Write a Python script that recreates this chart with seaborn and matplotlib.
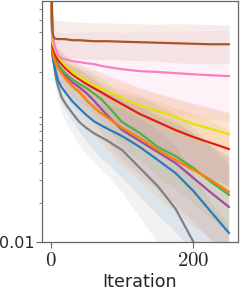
import numpy as np
import pandas as pd
import matplotlib
matplotlib.use("Agg")
import matplotlib.pyplot as plt
from matplotlib.ticker import FixedLocator, NullFormatter
import seaborn as sns

# Data
iters = [0, 2, 3, 5, 7, 10, 15, 20, 30, 40, 50, 60, 70, 80, 100, 125, 150, 175, 200, 225, 250]

gray = [2.0, 0.292, 0.258, 0.213, 0.179, 0.155, 0.128, 0.115, 0.0966, 0.0824, 0.0742, 0.0679, 0.0634, 0.0590, 0.0504, 0.0367, 0.0267, 0.0179, 0.0100, 0.0056, 0.0036]
blue = [2.0, 0.267, 0.249, 0.221, 0.199, 0.172, 0.152, 0.140, 0.119, 0.105, 0.0931, 0.0839, 0.0782, 0.0730, 0.0644, 0.0531, 0.0423, 0.0336, 0.0245, 0.0169, 0.0117]
purple = [2.0, 0.292, 0.277, 0.254, 0.237, 0.221, 0.202, 0.188, 0.166, 0.152, 0.137, 0.121, 0.105, 0.0917, 0.0716, 0.0590, 0.0486, 0.0401, 0.0308, 0.0237, 0.0185]
orange = [2.0, 0.292, 0.272, 0.245, 0.229, 0.213, 0.195, 0.179, 0.155, 0.140, 0.121, 0.107, 0.0966, 0.0886, 0.0742, 0.0622, 0.0504, 0.0423, 0.0355, 0.0297, 0.0241]
green = [2.0, 0.303, 0.287, 0.263, 0.245, 0.229, 0.209, 0.195, 0.175, 0.161, 0.150, 0.137, 0.124, 0.109, 0.0824, 0.0679, 0.0531, 0.0453, 0.0367, 0.0287, 0.0229]
red = [2.0, 0.319, 0.303, 0.282, 0.263, 0.245, 0.229, 0.213, 0.191, 0.175, 0.161, 0.150, 0.140, 0.130, 0.113, 0.0949, 0.0824, 0.0716, 0.0634, 0.0570, 0.0513]
yellow = [2.0, 0.336, 0.324, 0.303, 0.282, 0.263, 0.241, 0.224, 0.199, 0.182, 0.169, 0.158, 0.150, 0.140, 0.126, 0.111, 0.100, 0.0900, 0.0796, 0.0730, 0.0667]
pink = [2.0, 0.415, 0.367, 0.319, 0.292, 0.267, 0.254, 0.249, 0.241, 0.237, 0.232, 0.229, 0.222, 0.217, 0.209, 0.202, 0.199, 0.195, 0.191, 0.188, 0.185]
brown = [2.0, 0.415, 0.380, 0.360, 0.357, 0.355, 0.355, 0.355, 0.348, 0.348, 0.345, 0.342, 0.342, 0.342, 0.339, 0.336, 0.333, 0.330, 0.327, 0.324, 0.324]

# spread of the shaded band, in decades
gray_sd = [0, 0.05, 0.06, 0.08, 0.09, 0.10, 0.12, 0.13, 0.15, 0.18, 0.20, 0.22, 0.25, 0.27, 0.32, 0.38, 0.43, 0.48, 0.52, 0.55, 0.58]
blue_sd = [0, 0.05, 0.06, 0.08, 0.09, 0.10, 0.12, 0.13, 0.15, 0.18, 0.20, 0.22, 0.25, 0.27, 0.32, 0.38, 0.42, 0.45, 0.48, 0.50, 0.52]
purple_sd = [0, 0.04, 0.05, 0.06, 0.07, 0.08, 0.09, 0.10, 0.12, 0.14, 0.15, 0.17, 0.18, 0.20, 0.23, 0.26, 0.29, 0.32, 0.34, 0.36, 0.38]
orange_sd = [0, 0.05, 0.06, 0.08, 0.09, 0.10, 0.12, 0.13, 0.15, 0.17, 0.19, 0.21, 0.23, 0.25, 0.29, 0.33, 0.37, 0.40, 0.43, 0.45, 0.47]
green_sd = [0, 0.04, 0.05, 0.06, 0.07, 0.08, 0.09, 0.10, 0.12, 0.13, 0.14, 0.15, 0.16, 0.17, 0.19, 0.21, 0.23, 0.25, 0.27, 0.28, 0.30]
red_sd = [0, 0.04, 0.05, 0.06, 0.07, 0.08, 0.09, 0.10, 0.11, 0.12, 0.13, 0.14, 0.15, 0.16, 0.18, 0.20, 0.22, 0.24, 0.26, 0.27, 0.28]
yellow_sd = [0, 0.03, 0.04, 0.05, 0.055, 0.06, 0.065, 0.07, 0.08, 0.08, 0.085, 0.09, 0.095, 0.10, 0.11, 0.12, 0.13, 0.14, 0.14, 0.15, 0.15]
pink_sd = [0, 0.10, 0.12, 0.15, 0.17, 0.18, 0.19, 0.20, 0.22, 0.23, 0.24, 0.25, 0.26, 0.27, 0.28, 0.30, 0.31, 0.32, 0.33, 0.34, 0.35]
brown_sd = [0, 0.10, 0.12, 0.14, 0.14, 0.14, 0.14, 0.14, 0.14, 0.14, 0.14, 0.14, 0.14, 0.14, 0.14, 0.14, 0.14, 0.15, 0.15, 0.15, 0.15]

series = {
    "gray": (gray, gray_sd, "#808080"),
    "blue": (blue, blue_sd, "#2b7bba"),
    "purple": (purple, purple_sd, "#984ea3"),
    "green": (green, green_sd, "#4daf4a"),
    "orange": (orange, orange_sd, "#ff7f00"),
    "red": (red, red_sd, "#e41a1c"),
    "yellow": (yellow, yellow_sd, "#e3e30b"),
    "pink": (pink, pink_sd, "#f781bf"),
    "brown": (brown, brown_sd, "#a65628"),
}

# three "runs" per point: low / centre / high, so seaborn draws the band
rows = []
for name, (vals, sd, _) in series.items():
    for it, v, s in zip(iters, vals, sd):
        for k in (-1, 0, 1):
            rows.append({"method": name, "iteration": it, "value": v * 10 ** (k * s)})
df = pd.DataFrame(rows)
palette = {name: c for name, (_, _, c) in series.items()}

sns.set_style("white")
plt.rcParams["mathtext.fontset"] = "cm"
fig = plt.figure(figsize=(2.44, 2.99), dpi=100)
ax = fig.add_axes([42 / 244, 57 / 299, 196 / 244, 241.5 / 299])
ax.set_yscale("log")

sns.lineplot(data=df, x="iteration", y="value", hue="method", palette=palette,
             estimator="median", errorbar=("pi", 100), err_kws={"alpha": 0.1, "linewidth": 0},
             linewidth=1.6, legend=False, ax=ax)

ax.set_xlim(-12.5, 262.5)
ax.set_ylim(0.01, 0.70)

ax.set_xticks([0, 200])
ax.set_xticklabels([r"$0$", r"$200$"], fontsize=15)
ax.yaxis.set_major_locator(FixedLocator([0.01]))
ax.set_yticklabels(["0.01"], fontsize=11.5, family="DejaVu Sans")
minor = [0.02, 0.03, 0.04, 0.05, 0.06, 0.07, 0.08, 0.09, 0.2, 0.3, 0.4, 0.5, 0.6]
ax.yaxis.set_minor_locator(FixedLocator(minor))
ax.yaxis.set_minor_formatter(NullFormatter())
ax.tick_params(axis="x", which="major", length=4, width=0.8, color="#666666", pad=2, direction="out", bottom=True)
ax.tick_params(axis="y", which="major", length=4, width=0.8, color="#666666", pad=1, direction="out", left=True)
ax.tick_params(axis="y", which="minor", length=2.5, width=0.6, color="#666666", direction="out", left=True)

ax.set_xlabel("Iteration", fontsize=12.6, family="DejaVu Sans", labelpad=2)
ax.set_ylabel("")
for sp in ax.spines.values():
    sp.set_color("#666666")
    sp.set_linewidth(0.9)

fig.savefig("out.png", dpi=100)
